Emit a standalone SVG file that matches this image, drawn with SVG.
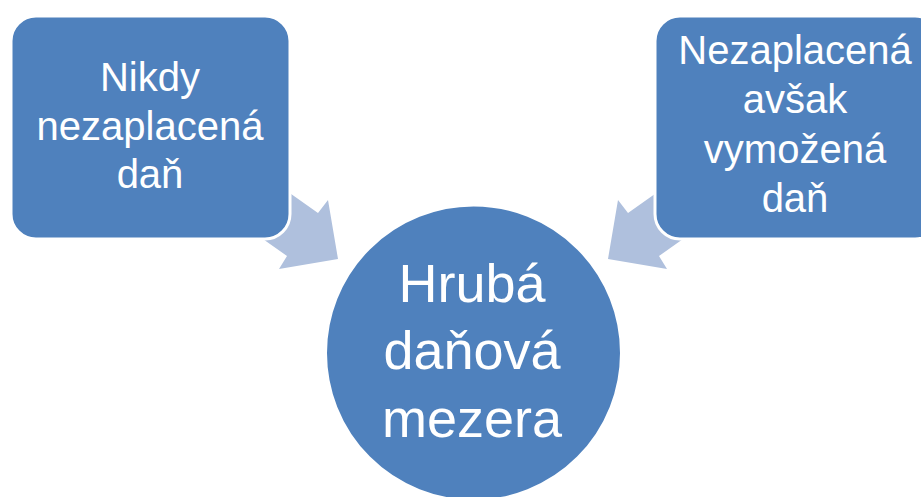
<svg xmlns="http://www.w3.org/2000/svg" width="921" height="497" viewBox="0 0 921 497">
<style>
.node{fill:#4F81BD;stroke:#FFFFFF;stroke-width:3}
.arrow{fill:#AFC0DD;stroke:none}
.t{font-family:"Liberation Sans",Arial,sans-serif;fill:#FFFFFF;text-anchor:middle}
.s{font-size:40px}
.b{font-size:54px}
</style>
<rect width="921" height="497" fill="#FFFFFF"/>
<g id="connectors">
<polygon class="arrow" points="253,167 318,213 328,200 338,259 279,269 287,256 222,210"/>
<polygon class="arrow" points="693,167 628,213 618,200 608,259 667,269 659,256 724,210"/>
</g>
<g id="node-left">
<rect class="node" x="11" y="16" width="279" height="223" rx="25" ry="25"/>
<text class="t s" x="150" y="91">Nikdy</text>
<text class="t s" x="150" y="140">nezaplacená</text>
<text class="t s" x="150" y="188">daň</text>
</g>
<g id="node-right">
<rect class="node" x="655" y="16" width="285" height="223" rx="25" ry="25"/>
<text class="t s" x="795" y="64">Nezaplacená</text>
<text class="t s" x="795" y="113">avšak</text>
<text class="t s" x="795" y="163">vymožená</text>
<text class="t s" x="795" y="212">daň</text>
</g>
<g id="node-center">
<circle class="node" cx="473.5" cy="353" r="148"/>
<text class="t b" x="472" y="302">Hrubá</text>
<text class="t b" x="472" y="369">daňová</text>
<text class="t b" x="472" y="437">mezera</text>
</g>
</svg>
